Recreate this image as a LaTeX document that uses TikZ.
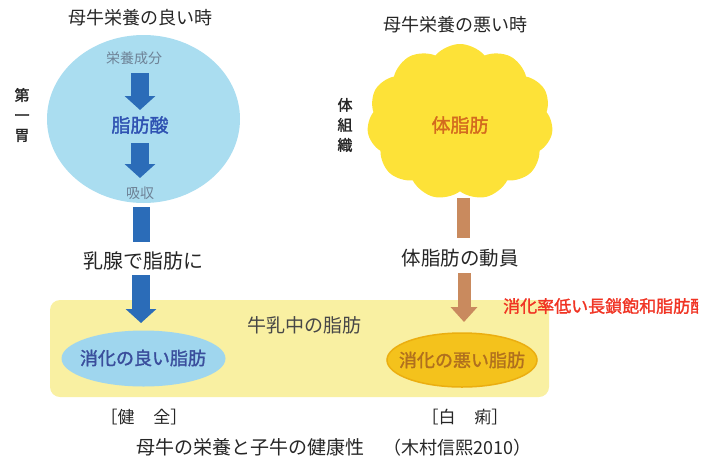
\documentclass[tikz,border=0pt]{standalone}
\usepackage{fontspec}
\setmainfont{Noto Sans CJK JP}
\newfontfamily\jbold[FakeBold=1.6]{Noto Sans CJK JP}
\usetikzlibrary{arrows.meta,shapes.symbols,shapes.geometric}
\newcommand\jfs[1]{\fontsize{#1}{#1}\selectfont}
\definecolor{circlec}{HTML}{AADDF0}
\definecolor{cloudc}{HTML}{FDE238}
\definecolor{bandc}{HTML}{F9F0A2}
\definecolor{goodc}{HTML}{9FD6EE}
\definecolor{badc}{HTML}{F4C21C}
\definecolor{badedge}{HTML}{EBAE10}
\definecolor{barrowc}{HTML}{2B6CB8}
\definecolor{brarrowc}{HTML}{C98A5E}
\definecolor{grayblue}{HTML}{6E8296}
\definecolor{acidc}{HTML}{2F52B2}
\definecolor{gooddark}{HTML}{3A4E9C}
\definecolor{fatc}{HTML}{D36A1E}
\definecolor{badtext}{HTML}{B0701E}
\definecolor{redc}{HTML}{F03424}
\definecolor{textc}{HTML}{262626}
\tikzset{
  lbl/.style={inner sep=0pt, text=textc},
  bluearrow/.style={draw=barrowc, line width=18pt, -{Triangle[width=30pt,length=14pt]}},
  blueshaft/.style={draw=barrowc, line width=17pt},
  brownarrow/.style={draw=brarrowc, line width=13pt, -{Triangle[width=26pt,length=15pt]}},
  brownshaft/.style={draw=brarrowc, line width=13pt},
  vlabel/.style={lbl, align=center, font=\jfs{15pt}\jbold},
}
\begin{document}
\begin{tikzpicture}[x=1pt,y=-1pt]
\useasboundingbox (0,0) rectangle (714,458);
\clip (0,0) rectangle (714,458);
% milk band
\node[fill=bandc, rounded corners=10pt, minimum width=499pt, minimum height=97pt, inner sep=0pt] (band) at (299.5,348.5) {};
% rumen circle
\node[ellipse, fill=circlec, minimum width=193pt, minimum height=168pt, inner sep=0pt] (rumen) at (143.5,119) {};
% body fat cloud
\node[cloud, cloud puffs=11, cloud puff arc=100, fill=cloudc, minimum width=186pt, minimum height=156pt, inner sep=0pt] (cloudn) at (460,122) {};
% ellipses in band
\node[ellipse, fill=goodc, minimum width=164pt, minimum height=56pt, inner sep=0pt] (good) at (143.5,358.5) {};
\node[ellipse, fill=badc, draw=badedge, line width=1.5pt, minimum width=150pt, minimum height=54pt, inner sep=0pt] (bad) at (462,360) {};
% titles
\node[lbl] (t1) at (140,18) {\jfs{18pt}母牛栄養の良い時};
\node[lbl] (t2) at (455,25) {\jfs{18pt}母牛栄養の悪い時};
% left column
\node[lbl, text=grayblue] (eiyo) at (134,58) {\jfs{14pt}栄養成分};
\node[lbl, text=acidc] (acid) at (140,125) {\jfs{19pt}\jbold 脂肪酸};
\node[lbl, text=grayblue] (kyu) at (140,193) {\jfs{14pt}吸収};
\node[lbl] (nyusen) at (143,261) {\jfs{20pt}乳腺で脂肪に};
\coordinate (a1s) at (140,73);
\coordinate (a1e) at (140,110);
\coordinate (a2s) at (140,143);
\coordinate (a2e) at (140,178);
\coordinate (a3s) at (141,207);
\coordinate (a3e) at (141,242);
\coordinate (a4s) at (141,275);
\coordinate (a4e) at (141,323);
\draw[bluearrow] (a1s) -- (a1e);
\draw[bluearrow] (a2s) -- (a2e);
\draw[blueshaft] (a3s) -- (a3e);
\draw[bluearrow] (a4s) -- (a4e);
% right column
\node[lbl, text=fatc] (fat) at (460,125) {\jfs{19pt}\jbold 体脂肪};
\node[lbl] (doin) at (460,258) {\jfs{19.5pt}体脂肪の動員};
\coordinate (b1s) at (463,198);
\coordinate (b1e) at (463,238);
\coordinate (b2s) at (464,273);
\coordinate (b2e) at (464,322);
\draw[brownshaft] (b1s) -- (b1e);
\draw[brownarrow] (b2s) -- (b2e);
% side labels
\node[vlabel] (dai) at (22,115) {第\\[5pt]一\\[5pt]胃};
\node[vlabel] (soshiki) at (345,125) {体\\[5pt]組\\[5pt]織};
% band texts
\node[lbl, text=textc!85] (gyunyu) at (304,325) {\jfs{19pt}牛乳中の脂肪};
\node[lbl, text=gooddark] (goodt) at (143,358) {\jfs{18pt}\jbold 消化の良い脂肪};
\node[lbl, text=badtext] (badt) at (462,360) {\jfs{18pt}\jbold 消化の悪い脂肪};
\begin{scope}
\clip (495,290) rectangle (698,325);
\node[lbl, text=redc, anchor=west] (red) at (503,306) {\jfs{17pt}\jbold 消化率低い長鎖飽和脂肪酸};
\end{scope}
% bottom
\node[lbl] (kenzen) at (144,417) {\jfs{17pt}［健\hspace{1.1em}全］};
\node[lbl] (hakuri) at (465,417) {\jfs{17pt}［白\hspace{1.1em}痢］};
\node[lbl] (cap) at (334,447) {\jfs{19pt}母牛の栄養と子牛の健康性\hspace{1em}\jfs{18pt}（木村信熙2010）};
\end{tikzpicture}
\end{document}
